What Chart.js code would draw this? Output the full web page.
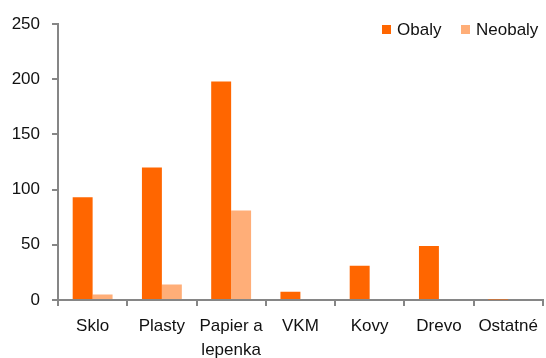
<!DOCTYPE html>
<html>
<head>
<meta charset="utf-8">
<script src="https://cdn.jsdelivr.net/npm/chart.js@4.4.1/dist/chart.umd.min.js"></script>
<style>
  html, body { margin: 0; padding: 0; background: #fff; }
  #wrap { width: 546px; height: 358px; }
</style>
</head>
<body>
<div id="wrap"><canvas id="c" width="546" height="358"></canvas></div>
<script>
// Categories of waste material
const categories = ['Sklo', 'Plasty', ['Papier a', 'lepenka'], 'VKM', 'Kovy', 'Drevo', 'Ostatné'];
// Packaging waste
const obaly = [93, 120, 198, 7.5, 31, 49, 0.4];
// Non-packaging waste
const neobaly = [5, 14, 81, 0, 0, 0, 0];
// Value axis ticks
const yTicks = [0, 50, 100, 150, 200, 250];

const FONT = { family: '"Liberation Sans", Arial, sans-serif', size: 17, lineHeight: 1.42 };
const AXIS = '#868686';
const TEXT = '#111';

// Legend drawn inside the plot, top-right corner
const innerLegend = {
  id: 'innerLegend',
  afterDraw(chart) {
    const ctx = chart.ctx;
    const starts = [382, 461];
    const cy = 29.5;
    ctx.save();
    ctx.font = '17px "Liberation Sans", Arial, sans-serif';
    ctx.textBaseline = 'middle';
    ctx.textAlign = 'left';
    chart.data.datasets.forEach((ds, i) => {
      const x = starts[i];
      ctx.fillStyle = ds.backgroundColor;
      ctx.fillRect(x, cy - 4.5, 9, 9);
      ctx.fillStyle = TEXT;
      ctx.fillText(ds.label, x + 15, cy + 0.5);
    });
    ctx.restore();
  }
};

new Chart(document.getElementById('c'), {
  type: 'bar',
  data: {
    labels: categories,
    datasets: [
      { label: 'Obaly', data: obaly, backgroundColor: '#FF6600', borderWidth: 0 },
      { label: 'Neobaly', data: neobaly, backgroundColor: '#FFAE78', borderWidth: 0 }
    ]
  },
  plugins: [innerLegend],
  options: {
    responsive: false,
    animation: false,
    devicePixelRatio: 1,
    layout: { padding: { top: 24, right: 1, left: 0, bottom: 0 } },
    datasets: { bar: { categoryPercentage: 0.576, barPercentage: 1.0 } },
    plugins: {
      tooltip: { enabled: false },
      legend: { display: false }
    },
    scales: {
      x: {
        afterFit: s => { s.height = 58; },
        grid: { display: true, drawOnChartArea: false, drawTicks: true, tickLength: 6, color: AXIS, lineWidth: 2, offset: true },
        border: { display: true, color: AXIS, width: 2 },
        ticks: { font: FONT, color: TEXT, padding: 8, maxRotation: 0, autoSkip: false }
      },
      y: {
        min: 0,
        max: 250,
        afterFit: s => { s.width = 58; },
        afterBuildTicks: s => { s.ticks = yTicks.map(v => ({ value: v })); },
        grid: { display: true, drawOnChartArea: false, drawTicks: true, tickLength: 6, color: AXIS, lineWidth: 2 },
        border: { display: true, color: AXIS, width: 2 },
        ticks: { font: { family: FONT.family, size: 17 }, color: TEXT, padding: 12 }
      }
    }
  }
});
</script>
</body>
</html>
